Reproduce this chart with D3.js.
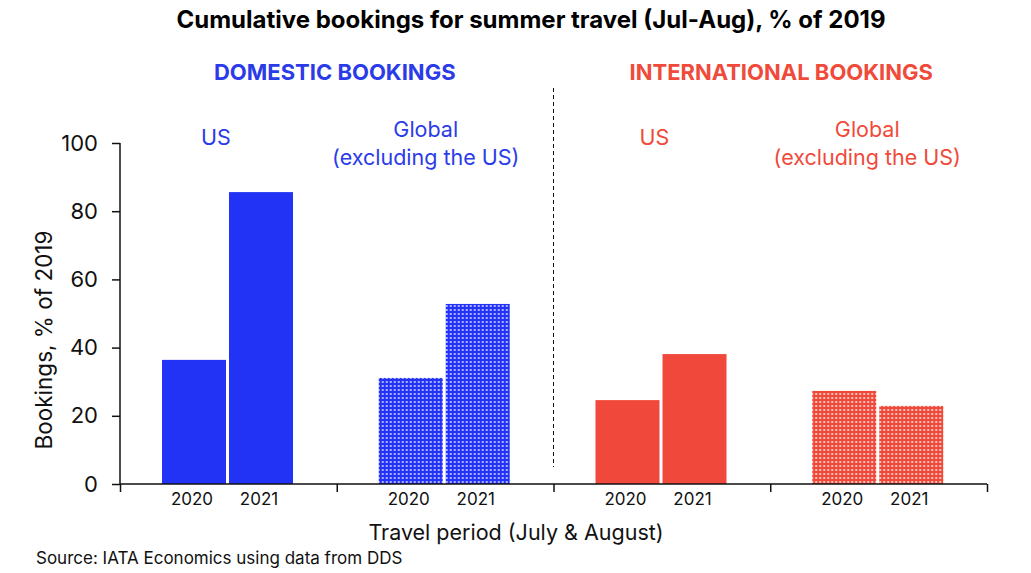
<!DOCTYPE html>
<html>
<head>
<meta charset="utf-8">
<script src="https://cdn.jsdelivr.net/npm/d3@7"></script>
<style>
  body { margin: 0; background: #fff; }
  text { font-family: Inter, "Noto Sans", sans-serif; }
</style>
</head>
<body>
<div id="chart"></div>
<script>
// data
var groups = ["domUS", "domGlobal", "intUS", "intGlobal"];
var years = ["2020", "2021"];
var values = {
  domUS: [36.4, 85.6],
  domGlobal: [31.1, 52.8],
  intUS: [24.6, 38.1],
  intGlobal: [27.3, 22.9]
};
var groupLabels = [["US"], ["Global", "(excluding the US)"], ["US"], ["Global", "(excluding the US)"]];
var yTicks = [0, 20, 40, 60, 80, 100];

// setup
var w = 1031;
var h = 573;
var blue = "#2233f5";
var red = "#f0483a";

var svg = d3.select("#chart")
  .append("svg")
  .attr("width", w)
  .attr("height", h);

var defs = svg.append("defs");
function dots(id, base, light) {
  var p = defs.append("pattern")
    .attr("id", id)
    .attr("patternUnits", "userSpaceOnUse")
    .attr("width", 4)
    .attr("height", 4);
  p.append("rect").attr("width", 4).attr("height", 4).attr("fill", base);
  p.append("rect").attr("x", 1).attr("y", 1).attr("width", 2).attr("height", 2).attr("fill", light);
}
dots("dotBlue", blue, "#aab0ff");
dots("dotRed", red, "#fbc2ba");

var x0 = d3.scaleBand().domain(groups).range([120, 987]);
var x1 = d3.scaleBand().domain(years).range([42, 173]).paddingInner(0.045);
var y = d3.scaleLinear().domain([0, 100]).range([484, 143]);
var edge = d3.scaleLinear().domain([0, 4]).range([120, 987]);

function barFill(g) {
  var isBlue = g.indexOf("dom") === 0;
  if (g.indexOf("Global") > 0) return isBlue ? "url(#dotBlue)" : "url(#dotRed)";
  return isBlue ? blue : red;
}

// bars
var gg = svg.append("g")
  .selectAll("g")
  .data(groups)
  .join("g")
  .attr("transform", function(d) { return "translate(" + x0(d) + ",0)"; });

gg.selectAll("rect")
  .data(function(g) { return years.map(function(yr, i) { return { g: g, yr: yr, v: values[g][i] }; }); })
  .join("rect")
  .attr("x", function(d) { return x1(d.yr); })
  .attr("width", x1.bandwidth())
  .attr("y", function(d) { return y(d.v); })
  .attr("height", function(d) { return y(0) - y(d.v); })
  .attr("fill", function(d) { return barFill(d.g); });

gg.selectAll("text.yr")
  .data(function(g) { return years; })
  .join("text")
  .attr("class", "yr")
  .attr("x", function(d) { return x1(d) + x1.bandwidth() / 2 - 2; })
  .attr("y", 505)
  .attr("text-anchor", "middle")
  .attr("font-size", 17)
  .attr("fill", "#111")
  .text(function(d) { return d; });

// axes
var yAxis = svg.append("g")
  .attr("transform", "translate(120,0)")
  .call(d3.axisLeft(y).tickValues(yTicks).tickSize(8).tickPadding(14));
yAxis.selectAll("text").attr("font-size", 22).attr("fill", "#111")
  .style("font-family", "Inter, 'Noto Sans', sans-serif");
yAxis.select(".domain").attr("stroke", "#111").attr("stroke-width", 1.5).attr("d", "M0,484V143");
yAxis.selectAll(".tick line").attr("stroke", "#111").attr("stroke-width", 1.5);

var xAxis = svg.append("g")
  .attr("transform", "translate(0,484)")
  .call(d3.axisBottom(edge).tickValues([0, 1, 2, 3, 4]).tickSize(8).tickFormat(""));
xAxis.select(".domain").attr("stroke", "#111").attr("stroke-width", 1.5).attr("d", "M120,0H987");
xAxis.selectAll(".tick line").attr("stroke", "#111").attr("stroke-width", 1.5);

// divider
svg.append("line")
  .attr("x1", edge(2)).attr("x2", edge(2))
  .attr("y1", 88).attr("y2", 467)
  .attr("stroke", "#111")
  .attr("stroke-width", 1)
  .attr("stroke-dasharray", "4,3");

// titles
svg.append("text")
  .attr("x", 531).attr("y", 28)
  .attr("text-anchor", "middle")
  .attr("font-size", 24)
  .attr("font-weight", "bold")
  .attr("fill", "#000")
  .text("Cumulative bookings for summer travel (Jul-Aug), % of 2019");

svg.append("text")
  .attr("x", (edge(0) + edge(2)) / 2 - 2).attr("y", 80)
  .attr("text-anchor", "middle")
  .attr("font-size", 22)
  .attr("font-weight", "bold")
  .attr("fill", "#2b3be8")
  .text("DOMESTIC BOOKINGS");

svg.append("text")
  .attr("x", (edge(2) + edge(4)) / 2 + 11).attr("y", 80)
  .attr("text-anchor", "middle")
  .attr("font-size", 22)
  .attr("font-weight", "bold")
  .attr("fill", "#f04a3a")
  .text("INTERNATIONAL BOOKINGS");

// group labels
var labelShift = [96, 89, 101, 97];
svg.append("g")
  .selectAll("text")
  .data(groups)
  .join("text")
  .attr("x", function(d, i) { return x0(d) + labelShift[i]; })
  .attr("y", function(d, i) { return groupLabels[i].length > 1 ? 137 : 145; })
  .attr("text-anchor", "middle")
  .attr("font-size", 21.5)
  .attr("fill", function(d) { return d.indexOf("dom") === 0 ? "#2b3be8" : "#f04a3a"; })
  .each(function(d, i) {
    var t = d3.select(this);
    groupLabels[i].forEach(function(line, j) {
      t.append("tspan")
        .attr("x", t.attr("x"))
        .attr("dy", j === 0 ? 0 : 28)
        .text(line);
    });
  });

svg.append("text")
  .attr("x", 516).attr("y", 540)
  .attr("text-anchor", "middle")
  .attr("font-size", 21.5)
  .attr("fill", "#111")
  .text("Travel period (July & August)");

svg.append("text")
  .attr("transform", "translate(52,340) rotate(-90)")
  .attr("text-anchor", "middle")
  .attr("font-size", 22.5)
  .attr("fill", "#111")
  .text("Bookings, % of 2019");

svg.append("text")
  .attr("x", 36).attr("y", 564)
  .attr("font-size", 17)
  .attr("fill", "#111")
  .text("Source: IATA Economics using data from DDS");
</script>
</body>
</html>
